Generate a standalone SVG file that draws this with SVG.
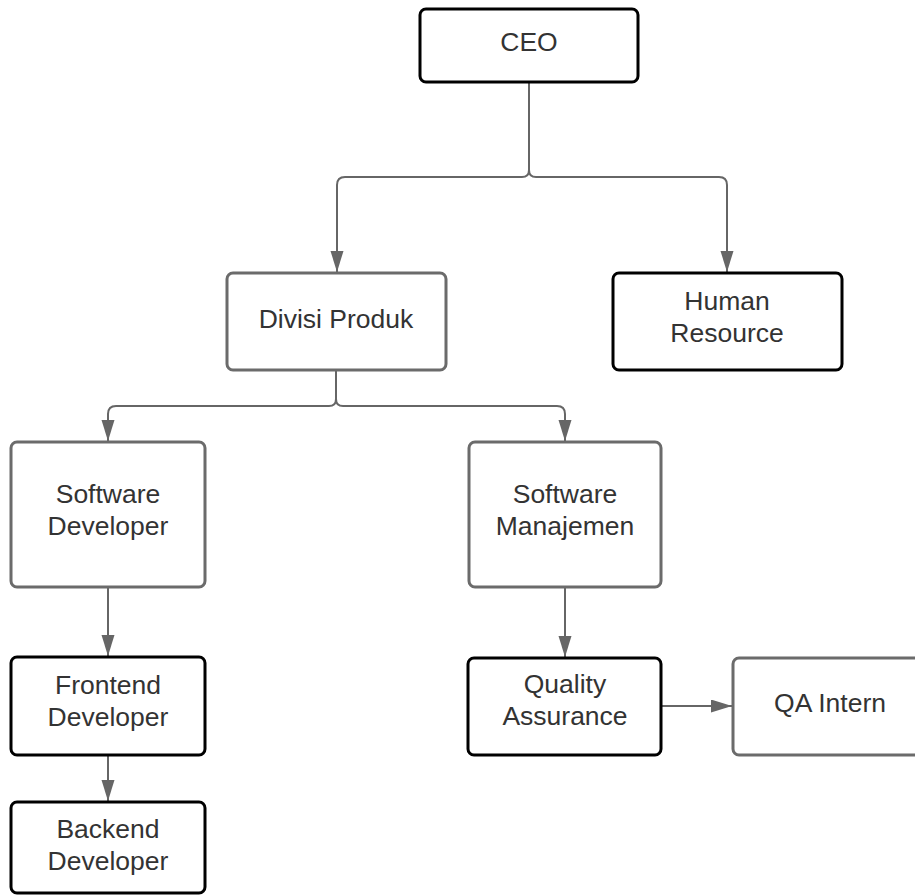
<svg xmlns="http://www.w3.org/2000/svg" width="915" height="895" viewBox="0 0 915 895">
<style>
.b{fill:#fff;stroke:#000;stroke-width:3}
.g{fill:#fff;stroke:#6b6b6b;stroke-width:3}
text{font-family:"Liberation Sans",Arial,sans-serif;font-size:26.5px;fill:#333;text-anchor:middle}
.c{fill:none;stroke:#666;stroke-width:2}
</style>
<defs>
<marker id="a" markerUnits="userSpaceOnUse" markerWidth="22" markerHeight="14" refX="21" refY="6.5" orient="auto">
<path d="M0 0 L21 6.5 L0 13 Z" fill="#666"/>
</marker>
</defs>
<g id="connectors">
<path class="c" d="M529 82 V170 Q529 177 522 177 H345 Q337 177 337 185 V272" marker-end="url(#a)"/>
<path class="c" d="M529 170 Q529 177 536 177 H719 Q727 177 727 185 V272" marker-end="url(#a)"/>
<path class="c" d="M336 370 V399 Q336 406 329 406 H116 Q108 406 108 414 V441" marker-end="url(#a)"/>
<path class="c" d="M336 399 Q336 406 343 406 H557 Q565 406 565 414 V441" marker-end="url(#a)"/>
<path class="c" d="M108 587 V656" marker-end="url(#a)"/>
<path class="c" d="M565 587 V657" marker-end="url(#a)"/>
<path class="c" d="M108 755 V801" marker-end="url(#a)"/>
<path class="c" d="M661 706 H732" marker-end="url(#a)"/>
</g>
<g id="ceo"><rect class="b" x="420" y="9" width="218" height="73" rx="6"/><text x="529" y="51">CEO</text></g>
<g id="divisi-produk"><rect class="g" x="227" y="273" width="219" height="97" rx="6"/><text x="336" y="328">Divisi Produk</text></g>
<g id="human-resource"><rect class="b" x="613" y="273" width="229" height="97" rx="6"/><text x="727" y="310">Human</text><text x="727" y="342">Resource</text></g>
<g id="software-developer"><rect class="g" x="11" y="442" width="194" height="145" rx="6"/><text x="108" y="503">Software</text><text x="108" y="535">Developer</text></g>
<g id="software-manajemen"><rect class="g" x="469" y="442" width="192" height="145" rx="6"/><text x="565" y="503">Software</text><text x="565" y="535">Manajemen</text></g>
<g id="frontend-developer"><rect class="b" x="11" y="657" width="194" height="98" rx="6"/><text x="108" y="694">Frontend</text><text x="108" y="726">Developer</text></g>
<g id="backend-developer"><rect class="b" x="11" y="802" width="194" height="91" rx="6"/><text x="108" y="838">Backend</text><text x="108" y="870">Developer</text></g>
<g id="quality-assurance"><rect class="b" x="468" y="658" width="193" height="97" rx="6"/><text x="565" y="693">Quality</text><text x="565" y="725">Assurance</text></g>
<g id="qa-intern"><rect class="g" x="733" y="658" width="194" height="97" rx="6"/><text x="830" y="712">QA Intern</text></g>
</svg>
